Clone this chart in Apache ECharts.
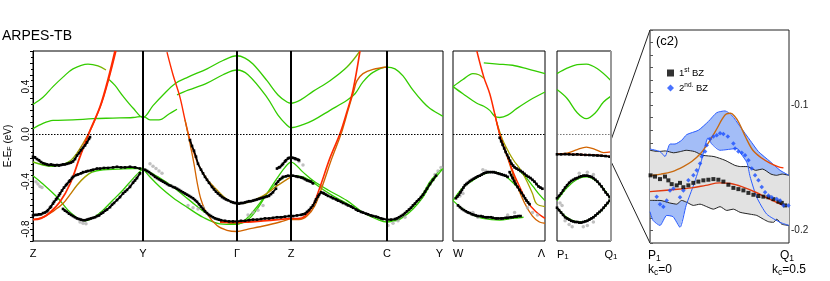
<!DOCTYPE html>
<html><head><meta charset="utf-8">
<script src="https://cdn.jsdelivr.net/npm/echarts@6/dist/echarts.min.js"></script>
<style>html,body{margin:0;padding:0;background:#fff}#c{width:830px;height:281px}</style>
</head><body><div id="c"></div>
<script>
// ---------- tick labels / symmetry points ----------
const kTicks = [0, 1.10, 2.04, 2.58, 3.54, 4.10];
const kLabels = ['Z', 'Y', 'Γ', 'Z', 'C', 'Y'];
const wTicks = [0, 0.926];
const wLabels = ['W', 'Λ'];
const pTicks = [0, 0.534];
const pLabels = ['P1', 'Q1'];
const eTicksMain = [-0.8, -0.4, 0.0, 0.4];
const insetTicks = [-0.2, -0.1];

// ---------- main panel bands (k, E) ----------
const bandU1 = [[0,0.25],[0.1,0.31],[0.2,0.40],[0.3,0.48],[0.4,0.55],[0.55,0.59],[0.65,0.575],[0.73,0.54]];
const bandU1b = [[0.76,0.46],[0.82,0.41],[0.9,0.32],[1.0,0.22],[1.1,0.14],[1.2,0.24],[1.3,0.33],[1.42,0.425],[1.55,0.48],[1.74,0.55],[1.9,0.62],[2.04,0.66],[2.12,0.64],[2.2,0.59],[2.34,0.45],[2.45,0.33],[2.54,0.27],[2.58,0.26],[2.68,0.29],[2.80,0.36],[2.97,0.45],[3.14,0.565],[3.27,0.70]];
const bandU2 = [[0,0.045],[0.1,0.09],[0.2,0.115],[0.4,0.12],[0.6,0.13],[0.8,0.135],[1.0,0.14],[1.1,0.15],[1.17,0.12],[1.26,0.12],[1.36,0.17],[1.44,0.21]];
const bandU2b = [[1.44,0.33],[1.55,0.37],[1.74,0.43],[1.9,0.50],[2.04,0.54],[2.15,0.50],[2.34,0.31],[2.45,0.16],[2.54,0.075],[2.58,0.055],[2.7,0.08],[2.80,0.116],[2.97,0.20],[3.14,0.285],[3.22,0.34],[3.3,0.44],[3.4,0.52],[3.54,0.565],[3.62,0.55],[3.7,0.49],[3.8,0.37],[3.9,0.27],[3.97,0.215],[4.1,0.15]];
const bandRZ = [[0,-0.72],[0.08,-0.71],[0.17,-0.66],[0.27,-0.57],[0.37,-0.42],[0.47,-0.19],[0.57,0.03],[0.67,0.23],[0.75,0.46],[0.82,0.70]];
const bandOZ = [[0,-0.235],[0.1,-0.26],[0.2,-0.27],[0.3,-0.255],[0.38,-0.22],[0.44,-0.16],[0.5,-0.08],[0.56,0.01],[0.62,0.12],[0.69,0.27],[0.76,0.47],[0.83,0.70]];
const bandO2Z = [[0,-0.72],[0.1,-0.70],[0.2,-0.65],[0.3,-0.585],[0.37,-0.51],[0.44,-0.43],[0.52,-0.36],[0.59,-0.32],[0.7,-0.30],[0.85,-0.295],[1.0,-0.29],[1.1,-0.29]];
const bandGZ = [[0,-0.35],[0.1,-0.42],[0.24,-0.53],[0.35,-0.64],[0.45,-0.71],[0.52,-0.73],[0.6,-0.705],[0.7,-0.64],[0.8,-0.555],[0.9,-0.47],[1.0,-0.375],[1.1,-0.29]];
const bandRG = [[1.34,0.69],[1.40,0.50],[1.47,0.31],[1.52,0.12],[1.57,-0.05],[1.65,-0.25],[1.74,-0.38],[1.84,-0.47],[1.94,-0.55],[2.04,-0.585],[2.15,-0.575],[2.3,-0.52],[2.45,-0.43],[2.58,-0.36]];
const bandOG = [[1.52,0.12],[1.57,-0.08],[1.61,-0.25],[1.64,-0.40],[1.68,-0.55],[1.74,-0.67],[1.84,-0.77],[1.94,-0.81],[2.04,-0.82],[2.15,-0.80],[2.27,-0.78],[2.47,-0.74],[2.58,-0.71]];
const bandRflat = [[1.87,-0.74],[2.04,-0.745],[2.15,-0.74],[2.3,-0.73],[2.45,-0.72],[2.58,-0.71]];
const bandRC = [[2.58,-0.71],[2.65,-0.71],[2.72,-0.69],[2.80,-0.60],[2.87,-0.445],[2.97,-0.20],[3.07,0.004],[3.14,0.19],[3.20,0.37],[3.27,0.70]];
const bandRC2 = [[2.58,-0.72],[2.66,-0.72],[2.74,-0.69],[2.82,-0.60],[2.89,-0.445],[2.99,-0.20],[3.08,0.0],[3.15,0.2],[3.21,0.37],[3.24,0.45],[3.3,0.51],[3.4,0.545],[3.54,0.565]];
const bandG1 = [[1.1,-0.29],[1.25,-0.36],[1.40,-0.445],[1.57,-0.56],[1.74,-0.67],[1.9,-0.735],[2.04,-0.755],[2.15,-0.72],[2.25,-0.62],[2.34,-0.50],[2.45,-0.36],[2.52,-0.28],[2.58,-0.235],[2.7,-0.32],[2.8,-0.39],[2.95,-0.47],[3.14,-0.56],[3.3,-0.66],[3.45,-0.72],[3.54,-0.74],[3.62,-0.725],[3.7,-0.68],[3.8,-0.61],[3.9,-0.50],[3.97,-0.40],[4.05,-0.32],[4.1,-0.29]];
const bandG2 = [[1.1,-0.29],[1.18,-0.37],[1.27,-0.445],[1.4,-0.535],[1.54,-0.615],[1.7,-0.70],[1.87,-0.755],[2.04,-0.76],[2.15,-0.70],[2.25,-0.60],[2.35,-0.49],[2.45,-0.40],[2.52,-0.36],[2.58,-0.35],[2.7,-0.36],[2.79,-0.40],[2.87,-0.45],[3.0,-0.52],[3.14,-0.585],[3.3,-0.66],[3.47,-0.71],[3.54,-0.72],[3.62,-0.73],[3.7,-0.70],[3.8,-0.63],[3.9,-0.53],[3.97,-0.43],[4.05,-0.34],[4.1,-0.29]];

// ---------- main panel ARPES data ----------
const blkZ1 = [[0,-0.19],[0.02,-0.195],[0.04,-0.21],[0.06,-0.22],[0.08,-0.235],[0.1,-0.245],[0.12,-0.25],[0.14,-0.255],[0.16,-0.26],[0.18,-0.255],[0.2,-0.26],[0.22,-0.265],[0.24,-0.26],[0.26,-0.265],[0.28,-0.26],[0.3,-0.255],[0.32,-0.255],[0.34,-0.25],[0.36,-0.245],[0.38,-0.24],[0.4,-0.23],[0.42,-0.21],[0.44,-0.18],[0.46,-0.16],[0.48,-0.135],[0.5,-0.115],[0.52,-0.095],[0.54,-0.07],[0.56,-0.04],[0.57,-0.025]];
const blkZ2 = [[0,-0.685],[0.02,-0.68],[0.04,-0.68],[0.06,-0.675],[0.08,-0.675],[0.1,-0.665],[0.12,-0.66],[0.14,-0.65],[0.15,-0.64],[0.17,-0.62],[0.18,-0.61],[0.2,-0.585],[0.21,-0.57],[0.23,-0.55],[0.24,-0.54],[0.26,-0.515],[0.27,-0.50],[0.29,-0.475],[0.31,-0.45],[0.33,-0.43],[0.34,-0.42],[0.36,-0.40],[0.37,-0.39],[0.39,-0.37],[0.40,-0.36],[0.43,-0.345],[0.45,-0.34],[0.48,-0.33],[0.50,-0.32],[0.53,-0.315],[0.55,-0.31],[0.58,-0.305],[0.6,-0.30],[0.64,-0.29],[0.67,-0.29],[0.71,-0.285],[0.75,-0.285],[0.8,-0.28],[0.84,-0.275],[0.88,-0.28],[0.92,-0.28],[0.97,-0.275],[1.02,-0.28],[1.07,-0.29]];
const blkZ3 = [[0.3,-0.63],[0.32,-0.645],[0.34,-0.655],[0.36,-0.67],[0.38,-0.68],[0.4,-0.69],[0.42,-0.70],[0.44,-0.71],[0.46,-0.715],[0.48,-0.72],[0.5,-0.725],[0.52,-0.725],[0.54,-0.72],[0.56,-0.715],[0.58,-0.71],[0.6,-0.705],[0.62,-0.70],[0.64,-0.69],[0.66,-0.685],[0.68,-0.67],[0.7,-0.66],[0.72,-0.645],[0.74,-0.635],[0.77,-0.615],[0.79,-0.595],[0.81,-0.58],[0.84,-0.555],[0.87,-0.53],[0.9,-0.50],[0.92,-0.485],[0.94,-0.47],[0.97,-0.445],[1.0,-0.41],[1.02,-0.39],[1.04,-0.37],[1.07,-0.33]];
const blkR = [[1.57,-0.05],[1.59,-0.1],[1.61,-0.14],[1.63,-0.19],[1.65,-0.25],[1.68,-0.30],[1.70,-0.33],[1.72,-0.36],[1.74,-0.385],[1.76,-0.41],[1.79,-0.445],[1.81,-0.465],[1.83,-0.485],[1.85,-0.50],[1.87,-0.515],[1.89,-0.53],[1.91,-0.54],[1.93,-0.55],[1.95,-0.557],[1.98,-0.57],[2.0,-0.575],[2.02,-0.58],[2.04,-0.58],[2.06,-0.585],[2.08,-0.58],[2.1,-0.58],[2.12,-0.575],[2.14,-0.57],[2.16,-0.565],[2.18,-0.565],[2.2,-0.56],[2.22,-0.555],[2.24,-0.55],[2.26,-0.545],[2.28,-0.54],[2.3,-0.535],[2.32,-0.53],[2.34,-0.525],[2.36,-0.52],[2.38,-0.505],[2.40,-0.49],[2.43,-0.46]];
const blkG = [[1.12,-0.30],[1.14,-0.31],[1.16,-0.32],[1.18,-0.335],[1.2,-0.345],[1.22,-0.36],[1.24,-0.37],[1.26,-0.38],[1.28,-0.39],[1.3,-0.40],[1.32,-0.41],[1.34,-0.42],[1.36,-0.43],[1.38,-0.435],[1.40,-0.445],[1.42,-0.45],[1.44,-0.46],[1.46,-0.47],[1.48,-0.48],[1.5,-0.49],[1.52,-0.50],[1.54,-0.51],[1.56,-0.52],[1.58,-0.53],[1.6,-0.54],[1.62,-0.555],[1.64,-0.57],[1.66,-0.59],[1.68,-0.61],[1.7,-0.63],[1.72,-0.65],[1.74,-0.665],[1.76,-0.68],[1.78,-0.69],[1.8,-0.70],[1.82,-0.71],[1.84,-0.715],[1.86,-0.72],[1.88,-0.725],[1.92,-0.73],[1.96,-0.735],[2.0,-0.735],[2.04,-0.735],[2.08,-0.73],[2.12,-0.73],[2.16,-0.725],[2.2,-0.72],[2.24,-0.72],[2.28,-0.715],[2.32,-0.71],[2.36,-0.71],[2.40,-0.705],[2.44,-0.70],[2.48,-0.70],[2.52,-0.695],[2.56,-0.69],[2.60,-0.69],[2.64,-0.685],[2.68,-0.68],[2.7,-0.675],[2.72,-0.67],[2.74,-0.655],[2.76,-0.64],[2.78,-0.62],[2.8,-0.60],[2.82,-0.57],[2.83,-0.55],[2.85,-0.525],[2.86,-0.51],[2.88,-0.49],[2.9,-0.495],[2.91,-0.50],[2.93,-0.51],[2.95,-0.52],[2.98,-0.53],[3.0,-0.54],[3.03,-0.55],[3.05,-0.56],[3.08,-0.57],[3.1,-0.58],[3.13,-0.59],[3.15,-0.60],[3.18,-0.61],[3.2,-0.62],[3.23,-0.635],[3.25,-0.645],[3.28,-0.655],[3.3,-0.66],[3.33,-0.67],[3.35,-0.675],[3.38,-0.685],[3.4,-0.69],[3.43,-0.695],[3.45,-0.70],[3.48,-0.71],[3.5,-0.715],[3.54,-0.72],[3.58,-0.72],[3.62,-0.715],[3.64,-0.71],[3.66,-0.70],[3.68,-0.69],[3.7,-0.68],[3.72,-0.665],[3.74,-0.65],[3.76,-0.635],[3.78,-0.62],[3.8,-0.60],[3.82,-0.585],[3.84,-0.565],[3.86,-0.55],[3.88,-0.53],[3.9,-0.51],[3.92,-0.485],[3.94,-0.46],[3.97,-0.42],[4.0,-0.385],[4.03,-0.35]];
const blkZu = [[2.44,-0.29],[2.46,-0.28],[2.47,-0.277],[2.49,-0.26],[2.5,-0.25],[2.52,-0.23],[2.53,-0.22],[2.55,-0.205],[2.56,-0.20],[2.58,-0.195],[2.6,-0.20],[2.62,-0.205],[2.63,-0.21],[2.65,-0.215],[2.66,-0.22]];
const blkZd = [[2.43,-0.42],[2.45,-0.40],[2.47,-0.38],[2.49,-0.37],[2.5,-0.36],[2.53,-0.355],[2.55,-0.35],[2.58,-0.35],[2.6,-0.35],[2.63,-0.355],[2.65,-0.36],[2.68,-0.365],[2.7,-0.37],[2.72,-0.38],[2.74,-0.39],[2.76,-0.395],[2.78,-0.40],[2.8,-0.415]];
const gryMain = [[0.03,-0.40],[0.05,-0.42],[0.07,-0.44],[0.09,-0.45],[0.47,-0.74],[0.5,-0.75],[0.53,-0.755],[0.97,-0.43],[1.0,-0.40],[1.03,-0.37],[1.06,-0.34],[1.17,-0.25],[1.2,-0.27],[1.23,-0.29],[1.26,-0.31],[1.29,-0.33],[1.55,-0.60],[1.6,-0.62],[1.65,-0.63],[1.7,-0.62],[2.15,-0.68],[2.2,-0.66],[2.25,-0.64],[2.3,-0.60],[2.62,-0.21],[2.66,-0.23],[2.7,-0.26],[3.55,-0.77],[3.6,-0.75],[3.65,-0.73],[3.72,-0.70],[4.02,-0.34],[4.05,-0.31],[4.08,-0.28]];

// ---------- W - Lambda panel ----------
const p2U1a = [[0,0.40],[0.1,0.46],[0.2,0.51],[0.26,0.50],[0.31,0.47]];
const p2U1b = [[0.31,0.60],[0.45,0.59],[0.6,0.58],[0.75,0.55],[0.926,0.51]];
const p2U2 = [[0,0.40],[0.1,0.34],[0.24,0.26],[0.31,0.235],[0.37,0.20],[0.42,0.15],[0.47,0.14],[0.55,0.16],[0.64,0.215],[0.8,0.30],[0.926,0.355]];
const p2R = [[0.24,0.70],[0.31,0.48],[0.37,0.34],[0.42,0.17],[0.47,0.0],[0.54,-0.17],[0.61,-0.33],[0.68,-0.46],[0.74,-0.56],[0.83,-0.65],[0.926,-0.71]];
const p2O = [[0.42,0.17],[0.47,0.0],[0.55,-0.2],[0.63,-0.40],[0.72,-0.58],[0.80,-0.69],[0.87,-0.74],[0.926,-0.75]];
const p2Ol = [[0.44,0.10],[0.5,-0.05],[0.56,-0.15],[0.61,-0.22],[0.68,-0.30],[0.74,-0.39],[0.80,-0.50],[0.84,-0.585],[0.926,-0.61]];
const p2G = [[0.66,-0.30],[0.74,-0.37],[0.81,-0.445],[0.87,-0.51],[0.926,-0.56]];
const p2A = [[0,-0.56],[0.1,-0.45],[0.2,-0.39],[0.3,-0.34],[0.41,-0.32],[0.5,-0.34],[0.58,-0.39],[0.64,-0.44]];
const p2B = [[0,-0.56],[0.1,-0.63],[0.2,-0.68],[0.3,-0.71],[0.47,-0.725],[0.6,-0.71],[0.71,-0.70]];
const blkW1 = [[0.03,-0.54],[0.045,-0.525],[0.06,-0.51],[0.075,-0.49],[0.09,-0.47],[0.105,-0.45],[0.12,-0.43],[0.135,-0.42],[0.15,-0.41],[0.17,-0.395],[0.19,-0.385],[0.21,-0.375],[0.23,-0.365],[0.25,-0.355],[0.27,-0.35],[0.29,-0.34],[0.31,-0.33],[0.33,-0.325],[0.35,-0.32],[0.37,-0.32],[0.39,-0.32],[0.41,-0.32],[0.43,-0.325],[0.45,-0.33],[0.47,-0.335],[0.49,-0.34],[0.51,-0.345],[0.53,-0.35],[0.55,-0.36]];
const blkW2 = [[0.05,-0.6],[0.07,-0.615],[0.09,-0.63],[0.11,-0.64],[0.13,-0.65],[0.15,-0.66],[0.17,-0.665],[0.19,-0.675],[0.21,-0.68],[0.23,-0.685],[0.25,-0.69],[0.28,-0.69],[0.3,-0.695],[0.33,-0.70],[0.35,-0.70],[0.38,-0.70],[0.4,-0.705],[0.43,-0.71],[0.45,-0.71],[0.48,-0.71],[0.5,-0.71],[0.53,-0.705],[0.55,-0.705],[0.58,-0.70],[0.6,-0.70],[0.62,-0.695],[0.64,-0.695],[0.66,-0.69],[0.68,-0.69]];
const blkW3 = [[0.47,-0.03],[0.485,-0.06],[0.5,-0.09],[0.515,-0.12],[0.53,-0.15],[0.545,-0.175],[0.56,-0.20],[0.575,-0.225],[0.59,-0.25],[0.605,-0.265],[0.62,-0.28],[0.64,-0.29],[0.66,-0.30],[0.68,-0.31],[0.70,-0.32],[0.72,-0.335],[0.74,-0.35],[0.76,-0.36],[0.78,-0.37],[0.8,-0.385],[0.82,-0.40],[0.84,-0.42],[0.86,-0.44],[0.88,-0.45],[0.9,-0.46]];
const blkW4 = [[0.57,-0.32],[0.585,-0.345],[0.6,-0.37],[0.615,-0.395],[0.63,-0.42],[0.65,-0.445],[0.67,-0.47],[0.69,-0.495],[0.71,-0.52],[0.725,-0.54],[0.74,-0.56],[0.755,-0.575],[0.77,-0.59]];
const gryW = [[0.07,-0.52],[0.1,-0.50],[0.3,-0.30],[0.33,-0.31],[0.2,-0.66],[0.25,-0.70],[0.55,-0.68],[0.62,-0.66],[0.75,-0.62],[0.8,-0.66],[0.85,-0.68]];

// ---------- P1 - Q1 panel ----------
const p3T1 = [[0,0.51],[0.1,0.555],[0.2,0.585],[0.29,0.59],[0.4,0.55],[0.534,0.45]];
const p3T2 = [[0,0.375],[0.1,0.30],[0.2,0.18],[0.29,0.13],[0.38,0.18],[0.46,0.27],[0.534,0.32]];
const p3O = [[0,-0.165],[0.1,-0.16],[0.2,-0.13],[0.29,-0.11],[0.38,-0.13],[0.46,-0.155],[0.534,-0.15]];
const p3R = [[0,-0.17],[0.15,-0.17],[0.3,-0.175],[0.45,-0.18],[0.534,-0.19]];
const p3A = [[0,-0.56],[0.1,-0.45],[0.2,-0.38],[0.29,-0.36],[0.38,-0.39],[0.46,-0.46],[0.534,-0.55]];
const p3B = [[0,-0.62],[0.08,-0.69],[0.16,-0.73],[0.24,-0.74],[0.32,-0.72],[0.42,-0.66],[0.534,-0.55]];
const blkP1 = [[0,-0.17],[0.04,-0.17],[0.08,-0.168],[0.12,-0.17],[0.16,-0.172],[0.2,-0.17],[0.24,-0.173],[0.28,-0.175],[0.32,-0.176],[0.36,-0.178],[0.4,-0.18],[0.44,-0.182],[0.48,-0.185],[0.52,-0.19]];
const blkP2 = [[0,-0.54],[0.02,-0.52],[0.04,-0.50],[0.06,-0.475],[0.08,-0.45],[0.1,-0.43],[0.12,-0.41],[0.14,-0.395],[0.16,-0.385],[0.18,-0.375],[0.2,-0.37],[0.22,-0.36],[0.24,-0.355],[0.26,-0.35],[0.28,-0.35],[0.3,-0.35],[0.32,-0.355],[0.34,-0.36],[0.36,-0.37],[0.38,-0.385],[0.40,-0.40],[0.42,-0.42],[0.44,-0.44],[0.46,-0.465],[0.48,-0.49],[0.5,-0.51],[0.52,-0.53]];
const blkP3 = [[0,-0.62],[0.02,-0.64],[0.04,-0.66],[0.06,-0.68],[0.08,-0.70],[0.1,-0.71],[0.12,-0.72],[0.14,-0.73],[0.16,-0.735],[0.18,-0.74],[0.2,-0.74],[0.22,-0.745],[0.24,-0.745],[0.26,-0.74],[0.28,-0.735],[0.3,-0.73],[0.32,-0.72],[0.34,-0.71],[0.36,-0.70],[0.38,-0.685],[0.4,-0.67],[0.42,-0.655],[0.44,-0.64],[0.46,-0.62],[0.48,-0.60],[0.5,-0.58],[0.52,-0.56]];
const gryP = [[0.08,-0.73],[0.12,-0.76],[0.15,-0.78],[0.26,-0.78],[0.3,-0.77],[0.36,-0.74],[0.22,-0.33],[0.3,-0.32],[0.36,-0.34],[0.03,-0.58],[0.05,-0.60]];

// ---------- inset (c2) ----------
const grayUpper = [[0,-0.136],[0.03,-0.137],[0.055,-0.1365],[0.085,-0.138],[0.11,-0.137],[0.13,-0.136],[0.16,-0.137],[0.19,-0.140],[0.23,-0.141],[0.27,-0.144],[0.305,-0.148],[0.325,-0.149],[0.35,-0.149],[0.38,-0.152],[0.405,-0.151],[0.435,-0.155],[0.455,-0.156],[0.475,-0.155],[0.5,-0.156]];
const grayLower = [[0,-0.176],[0.036,-0.176],[0.07,-0.178],[0.096,-0.179],[0.114,-0.176],[0.132,-0.1775],[0.156,-0.180],[0.18,-0.179],[0.204,-0.181],[0.228,-0.183],[0.252,-0.181],[0.276,-0.184],[0.30,-0.183],[0.324,-0.1855],[0.36,-0.187],[0.384,-0.188],[0.408,-0.191],[0.426,-0.193],[0.444,-0.1935],[0.456,-0.191],[0.474,-0.195],[0.5,-0.196]];
const blueUpper = [[0,-0.135],[0.036,-0.137],[0.054,-0.141],[0.072,-0.131],[0.09,-0.131],[0.114,-0.128],[0.132,-0.1235],[0.174,-0.12],[0.21,-0.113],[0.24,-0.106],[0.27,-0.1046],[0.294,-0.108],[0.324,-0.117],[0.36,-0.128],[0.39,-0.137],[0.432,-0.145],[0.468,-0.152],[0.5,-0.156]];
const blueLower = [[0,-0.185],[0.011,-0.192],[0.036,-0.196],[0.06,-0.188],[0.083,-0.189],[0.108,-0.1975],[0.13,-0.180],[0.158,-0.163],[0.183,-0.146],[0.209,-0.126],[0.222,-0.131],[0.252,-0.136],[0.313,-0.1346],[0.327,-0.1386],[0.349,-0.146],[0.36,-0.157],[0.384,-0.1735],[0.42,-0.187],[0.468,-0.1935],[0.5,-0.196]];
const bz1 = [[0.002,-0.156],[0.018,-0.157],[0.036,-0.159],[0.054,-0.157],[0.066,-0.160],[0.078,-0.163],[0.096,-0.164],[0.108,-0.162],[0.12,-0.1655],[0.138,-0.164],[0.156,-0.162],[0.174,-0.161],[0.192,-0.160],[0.21,-0.1595],[0.228,-0.159],[0.246,-0.1595],[0.264,-0.161],[0.282,-0.1635],[0.30,-0.166],[0.318,-0.167],[0.336,-0.168],[0.354,-0.170],[0.372,-0.1715],[0.39,-0.1725],[0.408,-0.173],[0.426,-0.1735],[0.444,-0.175],[0.462,-0.177],[0.474,-0.178],[0.486,-0.180]];
const bz2 = [[0.024,-0.173],[0.036,-0.179],[0.048,-0.181],[0.06,-0.176],[0.072,-0.168],[0.084,-0.1665],[0.108,-0.1735],[0.12,-0.168],[0.138,-0.160],[0.156,-0.156],[0.168,-0.152],[0.18,-0.1466],[0.186,-0.141],[0.198,-0.137],[0.204,-0.132],[0.216,-0.127],[0.228,-0.125],[0.24,-0.124],[0.252,-0.1225],[0.264,-0.123],[0.28,-0.125],[0.30,-0.1305],[0.306,-0.1346],[0.318,-0.137],[0.33,-0.138],[0.342,-0.140],[0.354,-0.144],[0.366,-0.1506],[0.378,-0.156],[0.39,-0.160],[0.402,-0.1654],[0.414,-0.1695],[0.426,-0.172],[0.438,-0.1735],[0.456,-0.1748],[0.468,-0.176],[0.48,-0.180],[0.498,-0.180]];
const tbUpper = [[0,-0.156],[0.04,-0.155],[0.08,-0.153],[0.12,-0.149],[0.15,-0.145],[0.18,-0.139],[0.21,-0.130],[0.24,-0.119],[0.26,-0.111],[0.275,-0.107],[0.29,-0.1065],[0.305,-0.109],[0.32,-0.114],[0.345,-0.126],[0.37,-0.136],[0.4,-0.142],[0.43,-0.146],[0.46,-0.149],[0.48,-0.150]];
const tbLower = [[0,-0.169],[0.08,-0.1675],[0.15,-0.166],[0.2,-0.164],[0.25,-0.162],[0.29,-0.1625],[0.33,-0.165],[0.38,-0.1695],[0.43,-0.175],[0.48,-0.180]];

// ---------- styling ----------
const FONT = '"Liberation Sans", Arial, Helvetica, sans-serif';
const G = '#33cc00', OL = '#a3a300', OR = '#d26400', RD = '#ff2a00';
const vgrad = s => new echarts.graphic.LinearGradient(0, 1, 0, 0, s.map(([o, c]) => ({offset: o, color: c})));
const hgrad = s => new echarts.graphic.LinearGradient(0, 0, 1, 0, s.map(([o, c]) => ({offset: o, color: c})));
function ln(g, data, color, w, extra) {
  return Object.assign({type: 'line', xAxisIndex: g, yAxisIndex: g, data, symbol: 'none', smooth: 0.35,
    lineStyle: {color, width: w || 1.3}, silent: true, z: 3, animation: false}, extra || {});
}
function dots(g, data, color, size, sym, name, z) {
  return {type: 'scatter', name, xAxisIndex: g, yAxisIndex: g, data, symbol: sym || 'circle', symbolSize: size,
    itemStyle: {color}, silent: true, z: z || 4, animation: false};
}
// ARPES trace: data points drawn as small dots joined in measurement order
function trace(g, data) {
  return {type: 'line', xAxisIndex: g, yAxisIndex: g, data, symbol: 'rect', symbolSize: 2.6, showSymbol: true,
    itemStyle: {color: '#000'}, lineStyle: {color: '#000', width: 1.8}, silent: true, z: 4, animation: false};
}
function band(g, up, lo, color, z) {
  return {type: 'custom', xAxisIndex: g, yAxisIndex: g, data: [0], silent: true, z, clip: true, animation: false,
    renderItem: (p, api) => ({type: 'polygon',
      shape: {points: up.map(d => api.coord(d)).concat(lo.slice().reverse().map(d => api.coord(d)))},
      style: {fill: color}})};
}
const vlines = (vals, color, w) => vals.map(v => ({xAxis: v, lineStyle: {color, width: w, type: 'solid'}}));
const mk = (data) => ({symbol: ['none', 'none'], silent: true, label: {show: false}, animation: false, data});

const rich = {n: {fontSize: 11, fontFamily: FONT, color: '#000'}, s: {fontSize: 8, fontFamily: FONT, color: '#000', verticalAlign: 'bottom', padding: [5, 0, 0, 0]}};
const subLbl = t => t.length > 1 ? '{n|' + t[0] + '}{s|' + t.slice(1) + '}' : '{n|' + t + '}';
function xAx(g, min, max, ticks, labels, minAlign, maxAlign) {
  return {type: 'value', gridIndex: g, min, max, axisLine: {show: false}, axisTick: {show: false}, splitLine: {show: false},
    axisLabel: {customValues: ticks, margin: 7, alignMinLabel: minAlign, alignMaxLabel: maxAlign, rich,
      formatter: v => subLbl(labels[ticks.findIndex(t => Math.abs(t - v) < 1e-6)] || '')}};
}

const chart = echarts.init(document.getElementById('c'));
const option = {
  backgroundColor: '#fff',
  animation: false,
  textStyle: {fontFamily: FONT},
  title: [
    {text: 'ARPES-TB', left: 2, top: 29, padding: 0, textStyle: {fontSize: 14, fontWeight: 'normal', color: '#000', fontFamily: FONT}},
    {text: '(c2)', left: 656, top: 35, padding: 0, textStyle: {fontSize: 13, fontWeight: 'normal', color: '#000', fontFamily: FONT}}
  ],
  legend: {
    left: 662, top: 62, orient: 'vertical', itemGap: 4, itemWidth: 7, itemHeight: 7,
    data: [{name: '1st BZ', icon: 'rect'}, {name: '2nd. BZ', icon: 'diamond'}],
    formatter: n => n === '1st BZ' ? '{t|1}{u|st}{t| BZ}' : '{t|2}{u|nd.}{t| BZ}',
    textStyle: {rich: {t: {fontSize: 9.5, fontFamily: FONT, color: '#000'}, u: {fontSize: 6.5, fontFamily: FONT, color: '#000', verticalAlign: 'top', padding: [0, 0, 5, 0]}}}
  },
  grid: [
    {left: 33, top: 51, width: 410, height: 190, show: true, borderColor: '#000', borderWidth: 1},
    {left: 453, top: 51, width: 92, height: 190, show: true, borderColor: '#000', borderWidth: 1},
    {left: 557, top: 51, width: 54, height: 190, show: true, borderColor: '#000', borderWidth: 1},
    {left: 650, top: 30, width: 139, height: 213, show: true, borderColor: '#222', borderWidth: 1}
  ],
  xAxis: [
    xAx(0, 0, 4.10, kTicks, kLabels, 'center', 'right'),
    xAx(1, 0, 0.926, wTicks, wLabels, 'left', 'right'),
    xAx(2, 0, 0.534, pTicks, pLabels, 'left', 'center'),
    {type: 'value', gridIndex: 3, min: 0, max: 0.5, show: false}
  ],
  yAxis: [
    {type: 'value', gridIndex: 0, min: -0.9, max: 0.7, interval: 0.1,
      name: '{a|E-E}{b|F}{a| (eV)}', nameLocation: 'middle', nameGap: 19, nameRotate: 90,
      nameTextStyle: {rich: {a: {fontSize: 10, fontFamily: FONT, color: '#000'}, b: {fontSize: 7, fontFamily: FONT, color: '#000', verticalAlign: 'bottom', padding: [4, 0, 0, 0]}}},
      axisLine: {show: true, lineStyle: {color: '#000'}},
      axisTick: {show: true, inside: false, length: 3, lineStyle: {color: '#000'}},
      minorTick: {show: true, splitNumber: 2, length: 2, lineStyle: {color: '#000'}},
      splitLine: {show: false},
      axisLabel: {rotate: 90, margin: 2, fontSize: 10, color: '#000', fontFamily: FONT,
        formatter: v => eTicksMain.some(t => Math.abs(t - v) < 1e-6) ? v.toFixed(1) : ''}},
    {type: 'value', gridIndex: 1, min: -0.9, max: 0.7, show: false},
    {type: 'value', gridIndex: 2, min: -0.9, max: 0.7, show: false},
    {type: 'value', gridIndex: 3, min: -0.21, max: -0.04, interval: 0.01, position: 'right',
      axisLine: {show: true, lineStyle: {color: '#888'}},
      axisTick: {show: true, inside: false, length: 3, lineStyle: {color: '#555'}},
      splitLine: {show: false},
      axisLabel: {margin: 2, fontSize: 10, color: '#222', fontFamily: FONT,
        formatter: v => insetTicks.some(t => Math.abs(t - v) < 1e-6) ? v.toFixed(1) : ''}}
  ],
  series: [
    // main panel
    ln(0, bandU1, hgrad([[0, G], [0.8, G], [1, OL]])),
    ln(0, bandU1b, hgrad([[0, G], [0.92, G], [1, OL]]), 1.3, {markLine: mk(vlines(kTicks.slice(1, 5), '#000', 2).concat([{yAxis: 0, lineStyle: {color: '#000', width: 1, type: [1.5, 1.5]}}]))}),
    ln(0, bandU2, G),
    ln(0, bandU2b, G),
    ln(0, bandGZ, G),
    ln(0, bandG1, G),
    ln(0, bandG2, G),
    ln(0, bandO2Z, hgrad([[0, RD], [0.3, OR], [0.48, OL], [0.56, G], [1, G]]), 1.4),
    ln(0, bandOZ, vgrad([[0, G], [0.12, OL], [0.3, OR], [0.55, RD], [1, RD]]), 1.4),
    ln(0, bandRZ, RD, 1.8),
    ln(0, bandRG, vgrad([[0, OL], [0.25, OR], [0.45, RD], [1, RD]]), 1.4),
    ln(0, bandOG, OR, 1.3),
    ln(0, bandRflat, RD, 1.8),
    ln(0, bandRC2, OR, 1.4),
    ln(0, bandRC, RD, 1.6),
    dots(0, gryMain, '#b0b0b0', 3.5, 'circle', undefined, 3.5),
    trace(0, blkZ1), trace(0, blkZ2), trace(0, blkZ3), trace(0, blkR), trace(0, blkG), trace(0, blkZu), trace(0, blkZd),
    // W - Lambda
    ln(1, p2U1a, hgrad([[0, G], [0.6, G], [1, OL]]), 1.3, {markLine: mk([{yAxis: 0, lineStyle: {color: '#000', width: 1, type: [1.5, 1.5]}}])}),
    ln(1, p2U1b, G), ln(1, p2U2, G), ln(1, p2A, G), ln(1, p2B, G), ln(1, p2G, G),
    ln(1, p2Ol, OL, 1.3), ln(1, p2O, OR, 1.4), ln(1, p2R, RD, 1.5),
    dots(1, gryW, '#b0b0b0', 3.5, 'circle', undefined, 3.5),
    trace(1, blkW1), trace(1, blkW2), trace(1, blkW3), trace(1, blkW4),
    // P1 - Q1
    ln(2, p3T1, G, 1.3, {markLine: mk([{yAxis: 0, lineStyle: {color: '#777', width: 1, type: [1.5, 1.5]}}, {xAxis: 0.534, lineStyle: {color: '#999', width: 2, type: 'solid'}}])}),
    ln(2, p3T2, G), ln(2, p3A, G), ln(2, p3B, G),
    ln(2, p3O, hgrad([[0, OR], [0.8, OR], [1, RD]]), 1.3), ln(2, p3R, RD, 1.6),
    dots(2, gryP, '#b0b0b0', 3.5, 'circle', undefined, 3.5),
    trace(2, blkP1), trace(2, blkP2), trace(2, blkP3),
    // inset
    band(3, blueUpper, blueLower, '#a3bdf7', 1),
    band(3, grayUpper, grayLower, '#e2e2e2', 2),
    ln(3, grayUpper, '#222', 1, {smooth: 0.2}), ln(3, grayLower, '#222', 1, {smooth: 0.2}),
    ln(3, blueUpper, '#2a5cff', 1, {smooth: 0.2}), ln(3, blueLower, '#2a5cff', 1, {smooth: 0.2}),
    ln(3, tbUpper, hgrad([[0, '#c86a10'], [0.75, '#c86a10'], [1, RD]]), 1.4),
    ln(3, tbLower, '#e03a10', 1.4),
    dots(3, bz1, '#000', 4, 'rect', '1st BZ', 5),
    dots(3, bz2, '#1a4fff', 4.5, 'diamond', '2nd. BZ', 5)
  ]
};
chart.setOption(option);

// connector lines and inset axis labels, positioned through the coordinate systems
const a1 = chart.convertToPixel({gridIndex: 2}, [pTicks[1], -0.05]);
const a2 = chart.convertToPixel({gridIndex: 2}, [pTicks[1], -0.23]);
const b1 = chart.convertToPixel({gridIndex: 3}, [0, -0.04]);
const b2 = chart.convertToPixel({gridIndex: 3}, [0, -0.21]);
const c2 = chart.convertToPixel({gridIndex: 3}, [0.5, -0.21]);
const lblRich = {n: {fontSize: 12, fontFamily: FONT, fill: '#000'}, s: {fontSize: 8.5, fontFamily: FONT, fill: '#000', verticalAlign: 'bottom', padding: [5, 0, 0, 0]}};
chart.setOption({
  graphic: [
    {type: 'line', shape: {x1: a1[0], y1: a1[1], x2: b1[0], y2: b1[1]}, style: {stroke: '#222', lineWidth: 1}, silent: true},
    {type: 'line', shape: {x1: a2[0], y1: a2[1], x2: b2[0], y2: b2[1]}, style: {stroke: '#222', lineWidth: 1}, silent: true},
    {type: 'text', x: b2[0] - 2, y: b2[1] + 6, style: {text: '{n|P}{s|1}', rich: lblRich}, silent: true},
    {type: 'text', x: b2[0] - 2, y: b2[1] + 20, style: {text: '{n|k}{s|c}{n|=0}', rich: lblRich}, silent: true},
    {type: 'text', x: c2[0] - 2, y: c2[1] + 6, style: {text: '{n|Q}{s|1}', rich: lblRich, align: 'center'}, silent: true},
    {type: 'text', x: c2[0], y: c2[1] + 20, style: {text: '{n|k}{s|c}{n|=0.5}', rich: lblRich, align: 'center'}, silent: true}
  ]
});
</script></body></html>
